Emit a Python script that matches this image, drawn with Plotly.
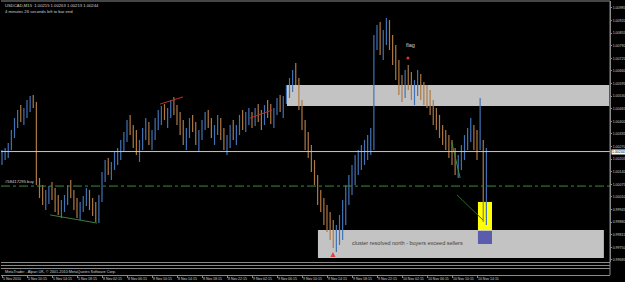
import plotly.graph_objects as go

# ---------------- data (USDCAD, bars) ----------------
HIGH = [1.00252, 1.00262, 1.00288, 1.00355, 1.00417, 1.00458, 1.00484, 1.00469, 1.00510, 1.00531,
        1.00536, 1.00500, 1.00108, 1.00071, 1.00046, 1.00066, 1.00087, 1.00056, 1.00020, 0.99994,
        1.00020, 1.00071, 1.00097, 1.00046, 1.00004, 0.99984, 1.00015, 1.00056, 1.00046, 1.00004,
        0.99984, 1.00020, 1.00139, 1.00200, 1.00211, 1.00190, 1.00242, 1.00262, 1.00304, 1.00345,
        1.00407, 1.00433, 1.00381, 1.00355, 1.00304, 1.00366, 1.00417, 1.00397, 1.00355, 1.00417,
        1.00458, 1.00479, 1.00489, 1.00469, 1.00510, 1.00526, 1.00484, 1.00448, 1.00407, 1.00366,
        1.00417, 1.00433, 1.00397, 1.00355, 1.00407, 1.00448, 1.00458, 1.00417, 1.00381, 1.00433,
        1.00417, 1.00366, 1.00329, 1.00381, 1.00407, 1.00381, 1.00433, 1.00458, 1.00448, 1.00469,
        1.00448, 1.00469, 1.00489, 1.00458, 1.00484, 1.00510, 1.00489, 1.00469, 1.00520, 1.00536,
        1.00531, 1.00587, 1.00624, 1.00665, 1.00701, 1.00624, 1.00510, 1.00407, 1.00345, 1.00278,
        1.00200, 1.00123, 1.00046, 1.00004, 0.99968, 0.99932, 0.99891, 0.99865, 0.99917, 0.99994,
        1.00071, 1.00123, 1.00175, 1.00226, 1.00252, 1.00278, 1.00304, 1.00329, 1.00366, 1.00845,
        1.00897, 1.00913, 1.00871, 1.00933, 1.00923, 1.00845, 1.00794, 1.00716, 1.00639, 1.00665,
        1.00691, 1.00655, 1.00613, 1.00665, 1.00644, 1.00603, 1.00587, 1.00562, 1.00510, 1.00469,
        1.00433, 1.00381, 1.00355, 1.00329, 1.00304, 1.00262, 1.00226, 1.00278, 1.00329, 1.00366,
        1.00417, 1.00381, 1.00355, 1.00520, 1.00304, 1.00262]

LOW = [1.00175, 1.00200, 1.00211, 1.00252, 1.00314, 1.00366, 1.00397, 1.00381, 1.00417, 1.00448,
       1.00469, 1.00071, 1.00004, 0.99968, 0.99942, 0.99973, 0.99994, 0.99932, 0.99917, 0.99901,
       0.99932, 0.99968, 1.00004, 0.99942, 0.99901, 0.99891, 0.99932, 0.99963, 0.99942, 0.99911,
       0.99880, 0.99875, 0.99984, 1.00087, 1.00123, 1.00097, 1.00149, 1.00175, 1.00200, 1.00242,
       1.00293, 1.00329, 1.00262, 1.00226, 1.00190, 1.00252, 1.00304, 1.00278, 1.00252, 1.00304,
       1.00355, 1.00381, 1.00407, 1.00366, 1.00417, 1.00433, 1.00381, 1.00329, 1.00278, 1.00252,
       1.00314, 1.00345, 1.00278, 1.00242, 1.00304, 1.00355, 1.00366, 1.00314, 1.00278, 1.00329,
       1.00304, 1.00252, 1.00226, 1.00262, 1.00304, 1.00278, 1.00329, 1.00355, 1.00345, 1.00381,
       1.00366, 1.00376, 1.00397, 1.00355, 1.00381, 1.00417, 1.00386, 1.00366, 1.00433, 1.00448,
       1.00417, 1.00489, 1.00520, 1.00551, 1.00587, 1.00458, 1.00355, 1.00252, 1.00211, 1.00139,
       1.00071, 0.99968, 0.99932, 0.99865, 0.99829, 0.99788, 0.99746, 0.99726, 0.99762, 0.99788,
       0.99865, 0.99968, 1.00020, 1.00071, 1.00123, 1.00149, 1.00175, 1.00200, 1.00226, 1.00252,
       1.00768, 1.00742, 1.00716, 1.00794, 1.00768, 1.00691, 1.00613, 1.00536, 1.00500, 1.00520,
       1.00562, 1.00510, 1.00484, 1.00531, 1.00510, 1.00484, 1.00469, 1.00433, 1.00381, 1.00355,
       1.00314, 1.00278, 1.00252, 1.00211, 1.00175, 1.00123, 1.00108, 1.00149, 1.00200, 1.00252,
       1.00293, 1.00252, 1.00200, 1.00252, 0.99880, 0.99865]

# u = bullish bar, d = bearish bar
DIRECTION = ("uuuuuuduuu" "dddduudddu" "uuddduuudd" "duuuduuuuu" "uddduuuduu"
             "uuduuddddu" "udduuudduu" "dduuduuduu" "duddudduud" "uuuudddddd"
             "ddddddduuu" "uuuuuuuuuu" "uduudddddu" "dduudddddd" "dddddduuuu"
             "uddudu")

TIME_TICKS = [0, 8, 16, 24, 32, 40, 48, 56, 64, 72, 80, 88, 96, 104, 112, 120, 128, 136, 144, 152]
TIME_LABELS = ["5 Nov 2010", "5 Nov 10:15", "5 Nov 14:15", "5 Nov 18:15", "8 Nov 02:15",
               "8 Nov 06:15", "8 Nov 10:15", "8 Nov 14:15", "8 Nov 18:15", "8 Nov 22:15",
               "9 Nov 02:15", "9 Nov 06:15", "9 Nov 10:15", "9 Nov 14:15", "9 Nov 18:15",
               "9 Nov 22:15", "10 Nov 02:15", "10 Nov 06:15", "10 Nov 10:15", "10 Nov 14:15"]

PRICE_TICKS = [1.00985, 1.00920, 1.00855, 1.00790, 1.00725, 1.00660, 1.00595, 1.00530,
               1.00465, 1.00400, 1.00335, 1.00270, 1.00205, 1.00140, 1.00075, 1.00010,
               0.99945, 0.99880, 0.99815, 0.99750, 0.99685]

BID = 1.00244
ORDER_PRICE = 1.00066
ORDER_LABEL = "#58417295 buy"
HEADER_1 = "USDCAD,M15  1.00215 1.00263 1.00213 1.00244"
HEADER_2 = "4 minutes 26 seconds left to bar end"
FOOTER = "MetaTrader - Alpari UK, \u00a9 2001-2010 MetaQuotes Software Corp."

# zones: (bar from, bar to, price top, price bottom, colour)
ZONES = [(91.2, 194.3, 1.00587, 1.00479, "#c3c3c3"),
         (101.1, 192.6, 0.99839, 0.99695, "#c3c3c3"),
         (152.3, 156.8, 0.99984, 0.99839, "#ffff00"),
         (152.3, 156.8, 0.99834, 0.99767, "#5c5cae")]

# trend lines: (bar0, price0, bar1, price1, colour)
TRENDLINES = [(15.4, 0.99917, 30.4, 0.99875, "#3d7d3d"),
              (50.6, 1.00489, 57.9, 1.00526, "#c03030"),
              (79.4, 1.00417, 86.4, 1.00458, "#c03030"),
              (145.6, 1.00020, 153.9, 0.99891, "#2a6a2a"),
              (143.9, 1.00293, 146.6, 1.00108, "#3a8a3a")]

NOTE_TEXT = "cluster resolved north - buyers exceed sellers"
NOTE_POS = (111.4, 0.99772)
FLAG_TEXT = "flag"
FLAG_POS = (130.6, 1.00794)
FLAG_DOT = (129.9, 1.00727)
ARROW_POS = (105.9, 0.99726)

UP = "#4272b4"
DOWN = "#ad7842"
AXIS = "#8a8a8a"
TXT = "#d0d0d0"
FONT = "Liberation Sans"
SMALL = 3.5

fig = go.Figure()

up_x, up_y, dn_x, dn_y = [], [], [], []
for i, (h, l, d) in enumerate(zip(HIGH, LOW, DIRECTION)):
    if d == "u":
        up_x += [i, i, None]; up_y += [l, h, None]
    else:
        dn_x += [i, i, None]; dn_y += [l, h, None]

fig.add_trace(go.Scatter(x=dn_x, y=dn_y, mode="lines", line=dict(color=DOWN, width=1.2),
                         hoverinfo="skip", showlegend=False))
fig.add_trace(go.Scatter(x=up_x, y=up_y, mode="lines", line=dict(color=UP, width=1.2),
                         hoverinfo="skip", showlegend=False))

for b0, p0, b1, p1, col in TRENDLINES:
    fig.add_trace(go.Scatter(x=[b0, b1], y=[p0, p1], mode="lines", line=dict(color=col, width=1),
                             hoverinfo="skip", showlegend=False))

fig.add_trace(go.Scatter(x=[FLAG_DOT[0]], y=[FLAG_DOT[1]], mode="markers",
                         marker=dict(color="#e03030", size=3), hoverinfo="skip", showlegend=False))
fig.add_trace(go.Scatter(x=[ARROW_POS[0]], y=[ARROW_POS[1]], mode="markers",
                         marker=dict(color="#e04040", size=5, symbol="arrow-up"),
                         hoverinfo="skip", showlegend=False))

shapes = []
for b0, b1, pt, pb, col in ZONES:
    shapes.append(dict(type="rect", xref="x", yref="y", x0=b0, x1=b1, y0=pb, y1=pt,
                       fillcolor=col, line=dict(width=0), layer="below"))
# bid line and order line
shapes.append(dict(type="line", xref="paper", yref="y", x0=0, x1=1, y0=BID, y1=BID,
                   line=dict(color="#c8c8c8", width=1)))
shapes.append(dict(type="line", xref="paper", yref="y", x0=0, x1=1, y0=ORDER_PRICE, y1=ORDER_PRICE,
                   line=dict(color="#3c8c3c", width=1, dash="dashdot")))
# window borders and indicator sub-window rules
shapes.append(dict(type="line", xref="paper", yref="paper", x0=0, x1=1, y0=1, y1=1,
                   line=dict(color=AXIS, width=1)))
shapes.append(dict(type="line", xref="paper", yref="paper", x0=1, x1=1, y0=0, y1=1,
                   line=dict(color=AXIS, width=1)))
for yy in (0.0456, 0.0347, 0.0237):
    shapes.append(dict(type="line", xref="paper", yref="paper", x0=0, x1=1, y0=yy, y1=yy,
                       line=dict(color=AXIS, width=1)))

annotations = [
    dict(text=HEADER_1, xref="paper", yref="paper", x=0.004, y=1.0, xanchor="left", yanchor="top",
         showarrow=False, font=dict(family=FONT, size=4.2, color=TXT)),
    dict(text=HEADER_2, xref="paper", yref="paper", x=0.004, y=0.978, xanchor="left", yanchor="top",
         showarrow=False, font=dict(family=FONT, size=4.2, color=TXT)),
    dict(text=ORDER_LABEL, xref="paper", yref="y", x=0.004, y=ORDER_PRICE, xanchor="left",
         yanchor="bottom", showarrow=False, font=dict(family=FONT, size=4.2, color=TXT)),
    dict(text=NOTE_TEXT, xref="x", yref="y", x=NOTE_POS[0], y=NOTE_POS[1], xanchor="left",
         yanchor="middle", showarrow=False, font=dict(family=FONT, size=5.5, color="#404040")),
    dict(text=FLAG_TEXT, xref="x", yref="y", x=FLAG_POS[0], y=FLAG_POS[1], xanchor="center",
         yanchor="middle", showarrow=False, font=dict(family=FONT, size=5.5, color=TXT)),
    dict(text=f"{BID:.5f}", xref="paper", yref="y", x=1.002, y=BID, xanchor="left",
         yanchor="middle", showarrow=False, bgcolor="#ffffff",
         font=dict(family=FONT, size=SMALL, color="#000000"), borderpad=0),
    dict(text=FOOTER, xref="paper", yref="paper", x=0.003, y=0.012, xanchor="left",
         yanchor="middle", showarrow=False, font=dict(family=FONT, size=3.8, color=TXT)),
]

fig.update_layout(
    width=625, height=282,
    margin=dict(l=1, r=15, t=1, b=7, autoexpand=False),
    paper_bgcolor="#000000", plot_bgcolor="#000000",
    shapes=shapes, annotations=annotations, showlegend=False,
    xaxis=dict(range=[-0.32, 194.56], anchor="free", position=0, automargin=False,
               tickvals=TIME_TICKS, ticktext=TIME_LABELS, ticklabelposition="outside right",
               tickangle=0, ticks="outside", ticklen=2, tickcolor=AXIS, showline=True,
               linecolor=AXIS, showgrid=False, zeroline=False,
               tickfont=dict(family=FONT, size=SMALL, color=TXT)),
    yaxis=dict(range=[0.99674, 1.01021], domain=[0.0474, 1.0], side="right", automargin=False,
               tickvals=PRICE_TICKS, ticktext=[f"{p:.5f}" for p in PRICE_TICKS],
               ticks="outside", ticklen=1, tickcolor=AXIS, showline=True, linecolor=AXIS,
               showgrid=False, zeroline=False,
               tickfont=dict(family=FONT, size=SMALL, color=TXT)),
)

fig.write_html("out.html")
